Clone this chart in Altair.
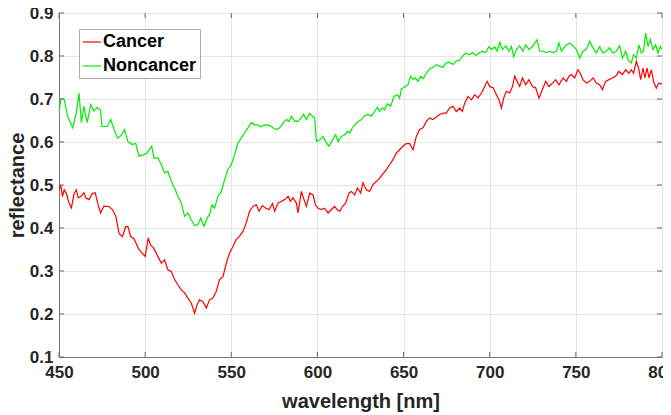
import altair as alt
import pandas as pd

cancer_wl = [450.0, 451.0, 452.0, 453.0, 454.3, 455.8, 457.2, 458.7, 460.0, 461.2, 462.6, 464.5, 465.5, 467.4, 469.3, 471.0,
             473.2, 474.2, 476.0, 479.0, 481.0, 483.0, 484.8, 486.8, 488.7, 490.0, 491.6, 493.5, 496.4, 498.4, 500.0, 501.8,
             503.2, 504.7, 506.0, 507.4, 509.4, 511.3, 513.2, 515.2, 517.1, 519.0, 521.0, 522.9, 524.8, 526.8, 528.7, 530.2,
             531.6, 533.5, 535.5, 537.4, 539.3, 541.3, 543.2, 545.2, 547.1, 549.0, 551.0, 552.9, 554.8, 556.8, 558.7, 560.6,
             562.6, 564.6, 566.1, 568.0, 570.0, 571.9, 573.9, 575.2, 577.1, 579.1, 581.0, 583.0, 584.3, 585.8, 587.8, 588.7,
             590.7, 592.2, 593.6, 595.5, 597.5, 598.8, 600.4, 602.3, 604.2, 606.2, 608.1, 610.0, 611.4, 613.0, 614.5, 616.4,
             618.3, 619.7, 621.6, 623.2, 625.1, 626.4, 628.4, 630.3, 632.2, 634.2, 636.1, 638.0, 640.0, 641.9, 643.8, 645.8,
             647.7, 649.6, 651.6, 653.5, 655.5, 657.4, 659.3, 661.3, 663.2, 665.1, 667.1, 669.0, 670.9, 672.9, 674.8, 676.7,
             678.7, 680.6, 682.6, 684.1, 685.5, 687.4, 689.4, 691.3, 693.2, 695.2, 697.1, 698.5, 700.0, 702.0, 703.9, 705.4,
             706.8, 708.1, 709.7, 711.6, 713.2, 714.5, 715.9, 717.4, 719.0, 720.9, 722.8, 724.8, 726.7, 728.6, 730.6, 732.5,
             734.4, 736.4, 738.3, 740.2, 742.6, 744.5, 746.0, 747.4, 749.3, 751.2, 752.6, 754.1, 756.1, 758.0, 760.0, 761.9,
             763.8, 765.4, 767.3, 769.2, 771.2, 773.1, 775.0, 777.0, 778.9, 780.8, 782.2, 783.5, 785.1, 786.4, 787.6, 789.0,
             790.1, 791.3, 792.5, 793.8, 795.1, 796.7, 798.0, 800.0]
cancer_refl = [0.489, 0.500, 0.473, 0.489, 0.480, 0.458, 0.447, 0.480, 0.489, 0.470, 0.473, 0.482, 0.470, 0.466, 0.480, 0.482,
               0.447, 0.435, 0.451, 0.450, 0.443, 0.427, 0.388, 0.380, 0.403, 0.403, 0.380, 0.375, 0.350, 0.341, 0.334, 0.377,
               0.360, 0.355, 0.345, 0.334, 0.318, 0.326, 0.303, 0.299, 0.280, 0.268, 0.256, 0.249, 0.237, 0.225, 0.202, 0.222,
               0.233, 0.229, 0.214, 0.233, 0.237, 0.253, 0.280, 0.287, 0.318, 0.342, 0.357, 0.373, 0.381, 0.392, 0.412, 0.439,
               0.450, 0.454, 0.439, 0.452, 0.446, 0.443, 0.457, 0.439, 0.458, 0.462, 0.466, 0.474, 0.462, 0.470, 0.458, 0.435,
               0.485, 0.466, 0.450, 0.481, 0.477, 0.454, 0.446, 0.443, 0.446, 0.435, 0.443, 0.450, 0.443, 0.439, 0.450, 0.458,
               0.481, 0.485, 0.477, 0.493, 0.481, 0.505, 0.489, 0.485, 0.501, 0.508, 0.516, 0.526, 0.536, 0.547, 0.559, 0.574,
               0.582, 0.590, 0.596, 0.596, 0.582, 0.613, 0.629, 0.633, 0.648, 0.656, 0.652, 0.658, 0.664, 0.667, 0.667, 0.679,
               0.683, 0.671, 0.679, 0.671, 0.691, 0.706, 0.698, 0.710, 0.702, 0.714, 0.729, 0.741, 0.729, 0.726, 0.710, 0.698,
               0.679, 0.702, 0.718, 0.714, 0.729, 0.753, 0.741, 0.729, 0.749, 0.733, 0.745, 0.729, 0.726, 0.702, 0.722, 0.741,
               0.729, 0.737, 0.745, 0.733, 0.749, 0.741, 0.753, 0.757, 0.749, 0.768, 0.760, 0.745, 0.737, 0.741, 0.749, 0.737,
               0.733, 0.722, 0.741, 0.745, 0.749, 0.753, 0.764, 0.757, 0.768, 0.760, 0.768, 0.760, 0.788, 0.772, 0.745, 0.772,
               0.749, 0.772, 0.749, 0.768, 0.741, 0.725, 0.737, 0.735]

noncancer_wl = [450.0, 451.0, 453.0, 455.0, 458.0, 460.0, 461.6, 463.0, 464.5, 466.4, 468.4, 470.3, 472.0, 474.0, 475.0, 478.0,
                480.0, 482.0, 484.0, 486.0, 488.0, 490.0, 492.5, 494.5, 496.4, 499.0, 501.0, 503.8, 505.2, 507.4, 509.4, 511.3,
                513.2, 515.2, 517.1, 519.0, 521.0, 522.9, 524.8, 526.8, 528.7, 530.6, 532.2, 534.1, 536.0, 537.4, 538.8, 540.3,
                542.3, 544.2, 546.1, 548.0, 550.0, 551.9, 553.9, 555.8, 557.7, 559.7, 561.6, 563.6, 565.5, 566.9, 568.4, 570.4,
                572.3, 574.2, 576.2, 578.1, 580.0, 582.0, 583.5, 584.9, 586.8, 588.7, 590.7, 592.0, 593.6, 595.5, 597.1, 598.4,
                599.4, 601.3, 603.3, 604.8, 606.7, 608.7, 610.6, 612.0, 613.9, 615.8, 617.4, 618.7, 620.7, 622.6, 625.5, 627.4,
                629.3, 631.3, 633.2, 634.8, 636.1, 637.5, 639.0, 640.6, 642.5, 644.4, 646.4, 647.7, 648.7, 650.6, 652.5, 654.1,
                655.5, 656.8, 658.4, 659.9, 661.3, 663.2, 665.1, 667.1, 669.0, 670.9, 672.9, 674.8, 676.7, 678.7, 680.6, 682.5,
                684.1, 686.1, 688.0, 690.0, 691.9, 693.8, 695.8, 697.7, 699.6, 701.0, 702.9, 704.3, 705.8, 707.4, 709.3, 711.2,
                712.6, 713.9, 715.5, 717.4, 719.3, 720.9, 722.8, 724.8, 726.1, 727.5, 729.0, 731.0, 732.9, 734.8, 736.8, 738.7,
                740.2, 741.6, 744.5, 746.4, 748.3, 750.3, 752.2, 754.1, 756.1, 758.0, 760.0, 761.9, 763.8, 765.7, 767.7, 769.6,
                771.5, 773.5, 775.4, 777.0, 778.9, 780.3, 782.2, 783.5, 785.1, 786.6, 788.0, 789.3, 790.5, 791.9, 793.2, 794.8,
                796.3, 797.7, 799.0, 800.0]
noncancer_refl = [0.665, 0.700, 0.700, 0.660, 0.633, 0.667, 0.714, 0.645, 0.683, 0.645, 0.687, 0.672, 0.680, 0.675, 0.636, 0.636,
                  0.652, 0.629, 0.609, 0.615, 0.629, 0.601, 0.594, 0.597, 0.567, 0.570, 0.574, 0.590, 0.562, 0.563, 0.547, 0.528,
                  0.532, 0.508, 0.493, 0.474, 0.458, 0.427, 0.435, 0.419, 0.405, 0.408, 0.423, 0.404, 0.423, 0.431, 0.454, 0.446,
                  0.474, 0.485, 0.512, 0.536, 0.547, 0.570, 0.598, 0.609, 0.621, 0.633, 0.645, 0.640, 0.640, 0.635, 0.639, 0.640,
                  0.638, 0.633, 0.629, 0.633, 0.644, 0.652, 0.648, 0.660, 0.648, 0.648, 0.656, 0.664, 0.652, 0.667, 0.660, 0.656,
                  0.601, 0.605, 0.613, 0.601, 0.590, 0.605, 0.617, 0.601, 0.613, 0.617, 0.625, 0.621, 0.636, 0.644, 0.652, 0.661,
                  0.664, 0.660, 0.671, 0.681, 0.671, 0.679, 0.675, 0.689, 0.683, 0.706, 0.710, 0.702, 0.723, 0.728, 0.733, 0.753,
                  0.745, 0.749, 0.741, 0.753, 0.747, 0.760, 0.770, 0.774, 0.780, 0.776, 0.774, 0.784, 0.785, 0.780, 0.788, 0.790,
                  0.799, 0.807, 0.803, 0.808, 0.801, 0.807, 0.811, 0.808, 0.822, 0.815, 0.821, 0.811, 0.832, 0.815, 0.824, 0.811,
                  0.822, 0.798, 0.815, 0.824, 0.811, 0.826, 0.815, 0.822, 0.830, 0.838, 0.811, 0.811, 0.808, 0.811, 0.808, 0.811,
                  0.830, 0.811, 0.826, 0.830, 0.824, 0.815, 0.795, 0.811, 0.816, 0.834, 0.819, 0.807, 0.822, 0.807, 0.811, 0.819,
                  0.807, 0.811, 0.824, 0.795, 0.811, 0.791, 0.784, 0.803, 0.795, 0.826, 0.807, 0.811, 0.853, 0.822, 0.838, 0.815,
                  0.826, 0.807, 0.822, 0.815]

series_names = ["Cancer", "Noncancer"]
series_colors = ["#ff0000", "#00ee00"]
x_ticks = [450, 500, 550, 600, 650, 700, 750, 800]
y_ticks = [0.1, 0.2, 0.3, 0.4, 0.5, 0.6, 0.7, 0.8, 0.9]

W, H = 603, 344
TICK = 5
TICK_COLOR = "#666666"
FONT = "Liberation Sans"

df = pd.concat([
    pd.DataFrame({"series": series_names[0], "wl": cancer_wl, "refl": cancer_refl, "order": range(len(cancer_wl))}),
    pd.DataFrame({"series": series_names[1], "wl": noncancer_wl, "refl": noncancer_refl, "order": range(len(noncancer_wl))}),
])
xt = pd.DataFrame({"wl": x_ticks})
yt = pd.DataFrame({"refl": y_ticks})

xscale = alt.Scale(domain=[450, 800], nice=False, zero=False)
yscale = alt.Scale(domain=[0.1, 0.9], nice=False, zero=False)

lines = alt.Chart(df).mark_line(strokeWidth=1.2, clip=True).encode(
    x=alt.X("wl:Q", scale=xscale,
            axis=alt.Axis(values=x_ticks, title="wavelength [nm]", format="d",
                          titleY=50, titleBaseline="alphabetic", labelPadding=7)),
    y=alt.Y("refl:Q", scale=yscale,
            axis=alt.Axis(values=y_ticks, title="reflectance", format=".1f",
                          titleX=-36, titleY=172, titleAngle=270, titleBaseline="alphabetic",
                          labelPadding=6)),
    color=alt.Color("series:N", scale=alt.Scale(domain=series_names, range=series_colors),
                    legend=alt.Legend(title=None, orient="none", legendX=20, legendY=16,
                                      symbolType="stroke", symbolSize=324, symbolStrokeWidth=1.2,
                                      labelFont=FONT, labelFontSize=18, labelFontWeight="bold",
                                      labelColor="#000000", labelOffset=1,
                                      strokeColor="#aaaaaa", fillColor="#ffffff",
                                      padding=3, rowPadding=5)),
    order="order:Q",
)

bottom_ticks = alt.Chart(xt).mark_rule(color=TICK_COLOR, strokeWidth=1).encode(
    x=alt.X("wl:Q", scale=xscale), y=alt.value(H), y2=alt.value(H - TICK))
top_ticks = alt.Chart(xt).mark_rule(color=TICK_COLOR, strokeWidth=1).encode(
    x=alt.X("wl:Q", scale=xscale), y=alt.value(0), y2=alt.value(TICK))
left_ticks = alt.Chart(yt).mark_rule(color=TICK_COLOR, strokeWidth=1).encode(
    y=alt.Y("refl:Q", scale=yscale), x=alt.value(0), x2=alt.value(TICK))
right_ticks = alt.Chart(yt).mark_rule(color=TICK_COLOR, strokeWidth=1).encode(
    y=alt.Y("refl:Q", scale=yscale), x=alt.value(W - TICK), x2=alt.value(W))

chart = alt.layer(lines, bottom_ticks, top_ticks, left_ticks, right_ticks).properties(
    width=W, height=H,
    autosize=alt.AutoSizeParams(type="none"),
    padding={"left": 51, "top": 5, "right": 1, "bottom": 58},
).configure_view(
    stroke="#999999", strokeWidth=1
).configure_axis(
    labelFont=FONT, labelFontSize=17, labelFontWeight="bold", labelColor="#262626",
    titleFont=FONT, titleFontSize=20, titleFontWeight="bold", titleColor="#262626",
    grid=True, gridColor="#e6e6e6", gridWidth=1,
    domainColor="#777777", domainWidth=1,
    tickSize=0, labelFlush=False,
)

chart.save("out.html", embed_options={"renderer": "svg", "actions": False})
